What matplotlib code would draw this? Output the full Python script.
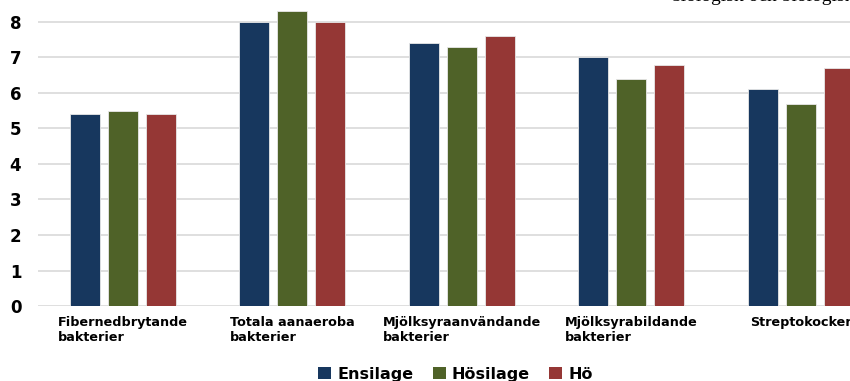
import matplotlib
matplotlib.use("Agg")
import matplotlib.pyplot as plt
from matplotlib.patches import Patch
import numpy as np

categories = ["Fibernedbrytande\nbakterier", "Totala aanaeroba\nbakterier",
              "Mjölksyraanvändande\nbakterier", "Mjölksyrabildande\nbakterier",
              "Streptokocker"]
series_names = ["Ensilage", "Hösilage", "Hö"]
ensilage = [5.4, 8.0, 7.4, 7.0, 6.1]
hosilage = [5.5, 8.3, 7.3, 6.4, 5.7]
ho = [5.4, 8.0, 7.6, 6.8, 6.7]
yticks = [0, 1, 2, 3, 4, 5, 6, 7, 8]
colors = ["#17375E", "#4F6228", "#953735"]

plt.rcParams['font.family'] = ['DejaVu Sans']

fig = plt.figure(figsize=(8.5, 3.81), dpi=100)
ax = fig.add_axes([38/850, 75/381, 847.5/850, 306/381])

x = np.arange(len(categories))
offs = [-0.224, 0.0, 0.224]
w = 0.177
for vals, off, c in zip([ensilage, hosilage, ho], offs, colors):
    ax.bar(x + off, vals, width=w, color=c, edgecolor="#E8E8E8", linewidth=0.6, zorder=3)

ax.set_xlim(-0.5, len(categories) - 0.5)
ax.set_ylim(0, 306/35.5)
ax.set_yticks(yticks)
ax.set_yticklabels([str(t) for t in yticks], fontsize=12, fontweight='bold')
ax.yaxis.grid(True, color="#D9D9D9", linewidth=1.2, zorder=0)
ax.set_axisbelow(True)
ax.tick_params(axis='y', length=0, pad=12)
ax.tick_params(axis='x', length=0, pad=7)
ax.set_xticks(x)
ax.set_xticklabels(categories, fontsize=9.2, fontweight='bold', multialignment='left')
for s in ax.spines.values():
    s.set_visible(False)

fig.text(0.79, 1.008, "biologisk och biologisk", fontsize=14, family='Liberation Serif',
         ha='left', va='center', color='#000000')

handles = [Patch(facecolor=c, edgecolor='none') for c in colors]
fig.legend(handles, series_names, loc='center', bbox_to_anchor=(0.536, 0.018), ncol=3,
           frameon=False, prop={'weight': 'bold', 'size': 11.5},
           handlelength=0.8, handleheight=0.8, handletextpad=0.4, columnspacing=1.2)

fig.savefig("out.png", dpi=100)
